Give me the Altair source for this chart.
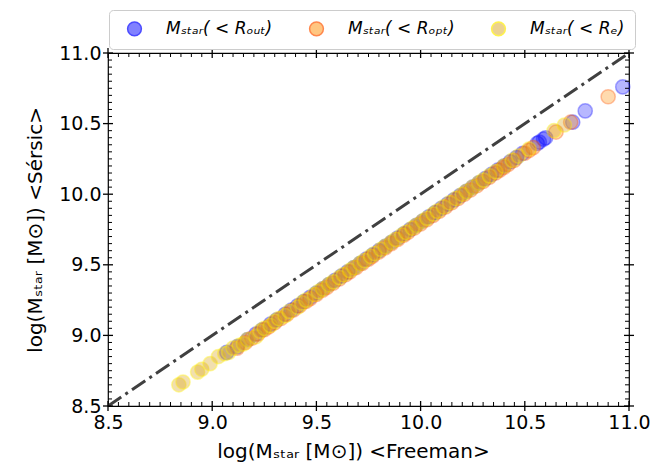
import altair as alt
import pandas as pd

# ---- data ----
x_out = [9.07, 9.12, 9.17, 9.21, 9.24, 9.28, 9.31, 9.35, 9.38, 9.41, 9.44, 9.47, 9.50, 9.53, 9.56,
         9.59, 9.62, 9.65, 9.68, 9.71, 9.74, 9.77, 9.80, 9.83, 9.86, 9.89, 9.92, 9.95, 9.98, 10.01,
         10.04, 10.07, 10.10, 10.13, 10.16, 10.19, 10.22, 10.25, 10.28, 10.31, 10.34, 10.37, 10.40,
         10.43, 10.46, 10.49, 10.56, 10.57, 10.59, 10.60, 10.73, 10.79, 10.97]
y_out = [8.88, 8.92, 8.97, 9.01, 9.04, 9.08, 9.11, 9.15, 9.18, 9.21, 9.24, 9.27, 9.30, 9.33, 9.36,
         9.39, 9.42, 9.45, 9.48, 9.51, 9.54, 9.57, 9.60, 9.63, 9.66, 9.69, 9.72, 9.75, 9.78, 9.81,
         9.84, 9.87, 9.90, 9.93, 9.96, 9.99, 10.02, 10.05, 10.08, 10.11, 10.14, 10.17, 10.20,
         10.23, 10.26, 10.29, 10.36, 10.37, 10.39, 10.40, 10.51, 10.59, 10.76]

x_opt = [9.12, 9.16, 9.19, 9.22, 9.25, 9.27, 9.30, 9.33, 9.36, 9.39, 9.42, 9.45, 9.47, 9.50, 9.53,
         9.55, 9.58, 9.61, 9.64, 9.66, 9.69, 9.72, 9.75, 9.77, 9.80, 9.83, 9.86, 9.89, 9.92, 9.94,
         9.97, 10.00, 10.03, 10.06, 10.09, 10.12, 10.15, 10.18, 10.21, 10.24, 10.27, 10.30, 10.33,
         10.36, 10.38, 10.40, 10.42, 10.45, 10.50, 10.52, 10.54, 10.65, 10.72, 10.90]
y_opt = [8.91, 8.95, 8.98, 9.01, 9.04, 9.06, 9.09, 9.12, 9.15, 9.18, 9.21, 9.24, 9.26, 9.29, 9.32,
         9.34, 9.37, 9.40, 9.43, 9.45, 9.48, 9.51, 9.54, 9.56, 9.59, 9.62, 9.65, 9.68, 9.71, 9.73,
         9.76, 9.79, 9.82, 9.85, 9.88, 9.91, 9.94, 9.97, 10.00, 10.03, 10.06, 10.09, 10.12,
         10.15, 10.17, 10.19, 10.21, 10.24, 10.29, 10.31, 10.33, 10.44, 10.51, 10.69]

x_e = [8.84, 8.86, 8.93, 8.95, 8.99, 9.03, 9.06, 9.08, 9.10, 9.13, 9.15, 9.17, 9.21, 9.23, 9.25,
       9.28, 9.30, 9.32, 9.35, 9.37, 9.41, 9.43, 9.45, 9.49, 9.51, 9.53, 9.56, 9.58, 9.61, 9.63,
       9.66, 9.68, 9.71, 9.73, 9.76, 9.78, 9.81, 9.83, 9.86, 9.88, 9.91, 9.93, 9.96, 9.98, 10.01,
       10.03, 10.06, 10.08, 10.11, 10.14, 10.17, 10.20, 10.22, 10.25, 10.28, 10.30, 10.33, 10.36,
       10.40, 10.44, 10.47, 10.52, 10.64, 10.69]
y_e = [8.65, 8.67, 8.74, 8.76, 8.80, 8.85, 8.87, 8.88, 8.91, 8.93, 8.94, 8.97, 8.99, 9.03, 9.05,
       9.07, 9.10, 9.12, 9.14, 9.17, 9.20, 9.23, 9.25, 9.29, 9.31, 9.33, 9.36, 9.38, 9.41, 9.43,
       9.46, 9.48, 9.51, 9.53, 9.56, 9.58, 9.61, 9.63, 9.66, 9.68, 9.71, 9.73, 9.76, 9.78, 9.81,
       9.83, 9.86, 9.88, 9.91, 9.94, 9.97, 10.00, 10.02, 10.05, 10.08, 10.10, 10.13, 10.16,
       10.20, 10.24, 10.27, 10.32, 10.45, 10.49]

series_labels = ["Mₛₜₐᵣ( < Rₒᵤₜ)", "Mₛₜₐᵣ( < Rₒₚₜ)", "Mₛₜₐᵣ( < Rₑ)"]
fill_colors = ["#0000ff", "#ff8c00", "#daa520"]
edge_colors = ["#0000ff", "#ff5500", "#ffee00"]
fill_alpha = [0.4, 0.5, 0.65]
edge_alpha = [0.5, 0.55, 0.85]

line_x = [8.5, 11.0]
major_ticks = [8.5, 9.0, 9.5, 10.0, 10.5, 11.0]
minor_ticks = [round(8.5 + 0.05 * i, 2) for i in range(51) if i % 10 != 0]

# ---- tables ----
rows = []
for lab, xs_, ys_ in zip(series_labels, [x_out, x_opt, x_e], [y_out, y_opt, y_e]):
    for a, b in zip(xs_, ys_, strict=True):
        rows.append({"x": a, "y": b, "series": lab})
df = pd.DataFrame(rows)
df_line = pd.DataFrame({"x": line_x, "y": line_x})
df_major = pd.DataFrame({"t": major_ticks})
df_minor = pd.DataFrame({"t": minor_ticks})

W, H = 521, 353
FONT = "DejaVu Sans"
dom = [8.5, 11.0]
xs = alt.Scale(domain=dom, nice=False, zero=False)
ys = alt.Scale(domain=dom, nice=False, zero=False)

x_title = "log(Mₛₜₐᵣ [M⊙]) <Freeman>"
y_title = "log(Mₛₜₐᵣ [M⊙]) <Sérsic>"

line = alt.Chart(df_line).mark_line(
    color="#404040", strokeWidth=3, strokeDash=[16, 5, 3, 5], clip=True
).encode(
    x=alt.X("x:Q", scale=xs, axis=alt.Axis(
        title=x_title, values=major_ticks, format=".1f", ticks=False, domain=False,
        grid=False, labelFontSize=19, labelPadding=7, titleFontSize=20,
        titleFontWeight="normal", titlePadding=9, labelFont=FONT, titleFont=FONT,
        labelColor="black", titleColor="black", labelFlush=False,
        titleAnchor="start", titleAlign="center", titleX=245)),
    y=alt.Y("y:Q", scale=ys, axis=alt.Axis(
        title=y_title, values=major_ticks, format=".1f", ticks=False, domain=False,
        grid=False, labelFontSize=19, labelPadding=7, titleFontSize=20,
        titleFontWeight="normal", titlePadding=13, labelFont=FONT, titleFont=FONT,
        labelColor="black", titleColor="black", labelFlush=False)),
)

points = alt.Chart(df).mark_circle(size=200, strokeWidth=1.5).encode(
    x=alt.X("x:Q", scale=xs),
    y=alt.Y("y:Q", scale=ys),
    color=alt.Color("series:N", scale=alt.Scale(domain=series_labels, range=fill_colors),
                    legend=alt.Legend(
                        title=None, orient="none", legendX=1, legendY=-43,
                        direction="horizontal", columns=3, gridAlign="all",
                        columnPadding=28, labelOffset=23, symbolSize=190,
                        symbolOffset=7,
                        symbolStrokeWidth=1.5, symbolOpacity=0.55,
                        labelFontSize=17, labelFont=FONT,
                        labelFontStyle="italic", labelColor="black", padding=10,
                        strokeColor="#cccccc", fillColor="white", cornerRadius=4,
                        symbolType="circle", labelLimit=250)),
    stroke=alt.Stroke("series:N", scale=alt.Scale(domain=series_labels, range=edge_colors)),
    fillOpacity=alt.FillOpacity("series:N", scale=alt.Scale(domain=series_labels, range=fill_alpha)),
    strokeOpacity=alt.StrokeOpacity("series:N", scale=alt.Scale(domain=series_labels, range=edge_alpha)),
)

def tick_layer(df_t, major, side):
    ln = 5 if major else 4
    if side in ("bottom", "top"):
        base = H if side == "bottom" else 0
        sign = -1 if side == "bottom" else 1
        y1, y2 = base, base + sign * ln
        if major:
            y1, y2 = base - ln, base + ln
        enc = dict(x=alt.X("t:Q", scale=xs), y=alt.value(y1), y2=alt.value(y2))
    else:
        base = 0 if side == "left" else W
        sign = 1 if side == "left" else -1
        x1, x2 = base, base + sign * ln
        if major:
            x1, x2 = base - ln, base + ln
        enc = dict(y=alt.Y("t:Q", scale=ys), x=alt.value(x1), x2=alt.value(x2))
    return alt.Chart(df_t).mark_rule(color="black", strokeWidth=1.3 if major else 1).encode(**enc)

ticks = []
for side in ("bottom", "top", "left", "right"):
    ticks.append(tick_layer(df_minor, False, side))
    ticks.append(tick_layer(df_major, True, side))

chart = alt.layer(line, points, *ticks).properties(
    width=W, height=H, autosize="none",
    padding={"left": 100, "top": 45, "right": 22, "bottom": 56},
).configure_view(stroke="black", strokeWidth=1.2).resolve_scale(
    x="shared", y="shared"
)

chart.save("out.html", embed_options={"renderer": "svg", "actions": False})
